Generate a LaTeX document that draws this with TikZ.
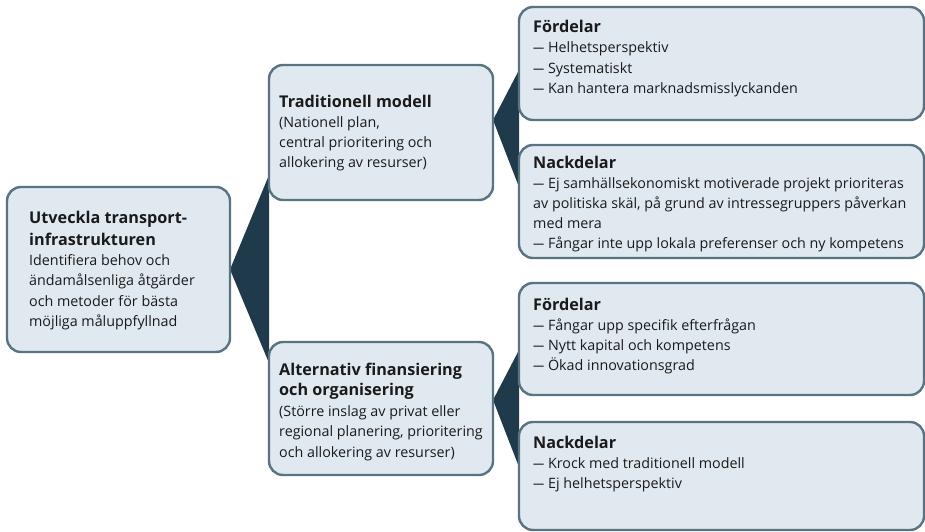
\documentclass[tikz,border=0pt]{standalone}
\usepackage{fontspec}
\setmainfont{Open Sans}
\definecolor{boxfill}{HTML}{E1E9F0}
\definecolor{boxline}{HTML}{587482}
\definecolor{wedgecol}{HTML}{1F3A4A}
\definecolor{ink}{HTML}{1A1A1A}
\newcommand\dsh{\scalebox{0.78}[1]{—}}
\newcommand\textlines[6]{%
  \foreach \t [count=\i] in {#6} {\node[#2] (#1\i) at (#3,{#4+(\i-1)*#5}) {\t};}}
\begin{document}
\begin{tikzpicture}[x=1pt,y=-1pt,
  box/.style={draw=boxline, fill=boxfill, line width=2.4pt, rounded corners=14pt,
    anchor=north west, inner sep=0pt, outer sep=0pt},
  txt/.style={anchor=base west, inner sep=0pt, text=ink, font=\fontsize{14.3}{17}\selectfont},
  ttl/.style={anchor=base west, inner sep=0pt, text=ink, font=\bfseries\fontsize{16.2}{19}\selectfont},
  wedge/.style={fill=wedgecol, draw=none}]
\useasboundingbox (0,0) rectangle (925,532);
% wedge end points
\coordinate (w1a) at (269,175); \coordinate (w1b) at (269,363);
\coordinate (a2) at (493,120); \coordinate (w2a) at (519,70); \coordinate (w2b) at (519,187);
\coordinate (a3) at (493,400); \coordinate (w3a) at (519,350); \coordinate (w3b) at (519,467);
% boxes (positions)
\path (7,187) coordinate (proot) (269,65) coordinate (ptrad) (269,342) coordinate (palt)
      (519,7) coordinate (pf1) (519,145) coordinate (pn1) (519,283) coordinate (pf2) (519,422) coordinate (pn2);
\coordinate (rootE) at (230,269.5);
% wedges behind boxes
\fill[wedge] (rootE) -- (w1a) -- (w1b) -- cycle;
\fill[wedge] (a2) -- (w2a) -- (w2b) -- cycle;
\fill[wedge] (a3) -- (w3a) -- (w3b) -- cycle;
\node[box, minimum width=223pt, minimum height=165pt] (root) at (proot) {};
\node[box, minimum width=224pt, minimum height=135pt] (trad) at (ptrad) {};
\node[box, minimum width=224pt, minimum height=133pt] (alt) at (palt) {};
\node[box, minimum width=405pt, minimum height=113pt] (f1) at (pf1) {};
\node[box, minimum width=405pt, minimum height=113pt] (n1) at (pn1) {};
\node[box, minimum width=405pt, minimum height=112pt] (f2) at (pf2) {};
\node[box, minimum width=405pt, minimum height=108pt] (n2) at (pn2) {};
% texts
\textlines{rootT}{ttl}{29}{223}{22}{{Utveckla transport-},{infrastrukturen}}
\textlines{rootB}{txt}{29}{265}{20.6}{{Identifiera behov och},{ändamålsenliga åtgärder},{och metoder för bästa},{möjliga måluppfyllnad}}
\textlines{tradT}{ttl}{279}{107}{20}{{Traditionell modell}}
\textlines{tradB}{txt}{279}{127}{20}{{(Nationell plan,},{central prioritering och},{allokering av resurser)}}
\textlines{altT}{ttl}{279}{375}{20.5}{{Alternativ finansiering},{och organisering}}
\textlines{altB}{txt}{279}{416}{20.6}{{(Större inslag av privat eller},{regional planering, prioritering},{och allokering av resurser)}}
\textlines{f1T}{ttl}{533}{33}{20}{{Fördelar}}
\textlines{f1B}{txt}{533}{53}{20.4}{{\dsh{} Helhetsperspektiv},{\dsh{} Systematiskt},{\dsh{} Kan hantera marknadsmisslyckanden}}
\textlines{n1T}{ttl}{533}{168}{20}{{Nackdelar}}
\textlines{n1B}{txt}{533}{188}{20.2}{{\dsh{} Ej samhällsekonomiskt motiverade projekt prioriteras},{av politiska skäl, på grund av intressegruppers påverkan},{med mera},{\dsh{} Fångar inte upp lokala preferenser och ny kompetens}}
\textlines{f2T}{ttl}{533}{310}{20}{{Fördelar}}
\textlines{f2B}{txt}{533}{330}{20}{{\dsh{} Fångar upp specifik efterfrågan},{\dsh{} Nytt kapital och kompetens},{\dsh{} Ökad innovationsgrad}}
\textlines{n2T}{ttl}{533}{448}{20}{{Nackdelar}}
\textlines{n2B}{txt}{533}{468}{20}{{\dsh{} Krock med traditionell modell},{\dsh{} Ej helhetsperspektiv}}
\end{tikzpicture}
\end{document}
